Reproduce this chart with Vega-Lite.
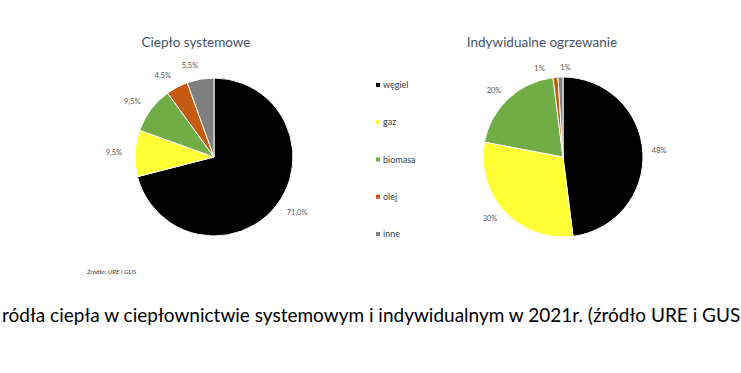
{
  "$schema": "https://vega.github.io/schema/vega-lite/v6.json",
  "background": "white",
  "padding": {"left": 2, "top": 35, "right": 0, "bottom": 0},
  "datasets": {
    "dane": [
      {"wykres": "Ciepło systemowe", "zrodlo": "węgiel", "udzial": 0.71, "kolejnosc": 1},
      {"wykres": "Ciepło systemowe", "zrodlo": "gaz", "udzial": 0.095, "kolejnosc": 2},
      {"wykres": "Ciepło systemowe", "zrodlo": "biomasa", "udzial": 0.095, "kolejnosc": 3},
      {"wykres": "Ciepło systemowe", "zrodlo": "olej", "udzial": 0.045, "kolejnosc": 4},
      {"wykres": "Ciepło systemowe", "zrodlo": "inne", "udzial": 0.055, "kolejnosc": 5},
      {"wykres": "Indywidualne ogrzewanie", "zrodlo": "węgiel", "udzial": 0.48, "kolejnosc": 1},
      {"wykres": "Indywidualne ogrzewanie", "zrodlo": "gaz", "udzial": 0.30, "kolejnosc": 2},
      {"wykres": "Indywidualne ogrzewanie", "zrodlo": "biomasa", "udzial": 0.20, "kolejnosc": 3},
      {"wykres": "Indywidualne ogrzewanie", "zrodlo": "olej", "udzial": 0.01, "kolejnosc": 4},
      {"wykres": "Indywidualne ogrzewanie", "zrodlo": "inne", "udzial": 0.01, "kolejnosc": 5}
    ],
    "legenda": [
      {"zrodlo": "węgiel"},
      {"zrodlo": "gaz"},
      {"zrodlo": "biomasa"},
      {"zrodlo": "olej"},
      {"zrodlo": "inne"}
    ]
  },
  "title": {
    "text": "ródła ciepła w ciepłownictwie systemowym i indywidualnym w 2021r. (źródło URE i GUS",
    "orient": "bottom", "anchor": "start", "frame": "group", "dx": -78, "offset": 31,
    "font": "Lato", "fontSize": 19, "fontWeight": "normal", "color": "#000000"
  },
  "vconcat": [
    {
      "title": {
        "text": "Źródło: URE i GUS",
        "orient": "bottom", "anchor": "start", "frame": "group", "dx": 7, "offset": 7,
        "font": "Lato", "fontSize": 6.5, "fontStyle": "italic", "fontWeight": "normal", "color": "#3a3a3a"
      },
      "spacing": 0,
      "bounds": "flush",
      "hconcat": [
        {
          "width": 268, "height": 200,
          "title": {"text": "Ciepło systemowe", "anchor": "middle", "dx": -18, "offset": 8, "font": "Lato", "fontSize": 13.5, "fontWeight": "normal", "color": "#44546a"},
          "data": {"name": "dane"},
          "transform": [{"filter": "datum.wykres === 'Ciepło systemowe'"}],
          "encoding": {
            "theta": {"field": "udzial", "type": "quantitative", "stack": true},
            "order": {"field": "kolejnosc", "type": "quantitative"}
          },
          "layer": [
            {
              "mark": {"type": "arc", "radius": 79, "stroke": "white", "strokeWidth": 1},
              "encoding": {
                "color": {"field": "zrodlo", "type": "nominal", "legend": null,
                  "scale": {"domain": ["węgiel", "gaz", "biomasa", "olej", "inne"], "range": ["#000000", "#ffff33", "#70ad47", "#c55a11", "#7f7f7f"]}}
              }
            },
            {
              "mark": {"type": "text", "radius": 92, "align": "left", "baseline": "middle", "font": "Lato", "fontSize": 7.5, "fill": "#595959"},
              "encoding": {
                "text": {"field": "udzial", "type": "quantitative", "format": ".1%"},
                "opacity": {"condition": {"test": "datum.zrodlo === 'węgiel'", "value": 1}, "value": 0}
              }
            },
            {
              "mark": {"type": "text", "radius": 92, "align": "right", "baseline": "middle", "font": "Lato", "fontSize": 7.5, "fill": "#595959"},
              "encoding": {
                "text": {"field": "udzial", "type": "quantitative", "format": ".1%"},
                "opacity": {"condition": {"test": "datum.zrodlo !== 'węgiel'", "value": 1}, "value": 0}
              }
            }
          ]
        },
        {
          "width": 60, "height": 205,
          "data": {"name": "legenda"},
          "encoding": {
            "y": {"field": "zrodlo", "type": "nominal", "sort": ["węgiel", "gaz", "biomasa", "olej", "inne"], "axis": null, "scale": {"padding": 0.75}}
          },
          "layer": [
            {
              "mark": {"type": "point", "shape": "square", "filled": true, "size": 16, "opacity": 1},
              "encoding": {
                "color": {"field": "zrodlo", "type": "nominal", "legend": null,
                  "scale": {"domain": ["węgiel", "gaz", "biomasa", "olej", "inne"], "range": ["#000000", "#ffff33", "#70ad47", "#c55a11", "#7f7f7f"]}}
              }
            },
            {
              "mark": {"type": "text", "align": "left", "dx": 5, "baseline": "middle", "font": "Lato", "fontSize": 9, "fill": "#404040"},
              "encoding": {"text": {"field": "zrodlo", "type": "nominal"}}
            }
          ]
        },
        {
          "width": 310, "height": 200,
          "title": {"text": "Indywidualne ogrzewanie", "anchor": "middle", "dx": -21, "offset": 8, "font": "Lato", "fontSize": 13.5, "fontWeight": "normal", "color": "#44546a"},
          "data": {"name": "dane"},
          "transform": [{"filter": "datum.wykres === 'Indywidualne ogrzewanie'"}],
          "encoding": {
            "theta": {"field": "udzial", "type": "quantitative", "stack": true},
            "order": {"field": "kolejnosc", "type": "quantitative"}
          },
          "layer": [
            {
              "mark": {"type": "arc", "radius": 80, "stroke": "white", "strokeWidth": 1},
              "encoding": {
                "color": {"field": "zrodlo", "type": "nominal", "legend": null,
                  "scale": {"domain": ["węgiel", "gaz", "biomasa", "olej", "inne"], "range": ["#000000", "#ffff33", "#70ad47", "#c55a11", "#7f7f7f"]}}
              }
            },
            {
              "mark": {"type": "text", "radius": 89, "align": "left", "baseline": "middle", "font": "Lato", "fontSize": 7.5, "fill": "#595959"},
              "encoding": {
                "text": {"field": "udzial", "type": "quantitative", "format": ".0%"},
                "opacity": {"condition": {"test": "datum.zrodlo === 'węgiel' || datum.zrodlo === 'inne'", "value": 1}, "value": 0}
              }
            },
            {
              "mark": {"type": "text", "radius": 90, "align": "right", "baseline": "middle", "font": "Lato", "fontSize": 7.5, "fill": "#595959"},
              "encoding": {
                "text": {"field": "udzial", "type": "quantitative", "format": ".0%"},
                "opacity": {"condition": {"test": "datum.zrodlo === 'gaz' || datum.zrodlo === 'biomasa'", "value": 1}, "value": 0}
              }
            },
            {
              "mark": {"type": "text", "radius": 88, "dx": -10, "align": "right", "baseline": "middle", "font": "Lato", "fontSize": 7.5, "fill": "#595959"},
              "encoding": {
                "text": {"field": "udzial", "type": "quantitative", "format": ".0%"},
                "opacity": {"condition": {"test": "datum.zrodlo === 'olej'", "value": 1}, "value": 0}
              }
            }
          ]
        }
      ]
    }
  ],
  "config": {
    "view": {"stroke": null},
    "locale": {"number": {"decimal": ",", "thousands": " ", "grouping": [3], "currency": ["", " zł"]}}
  }
}
